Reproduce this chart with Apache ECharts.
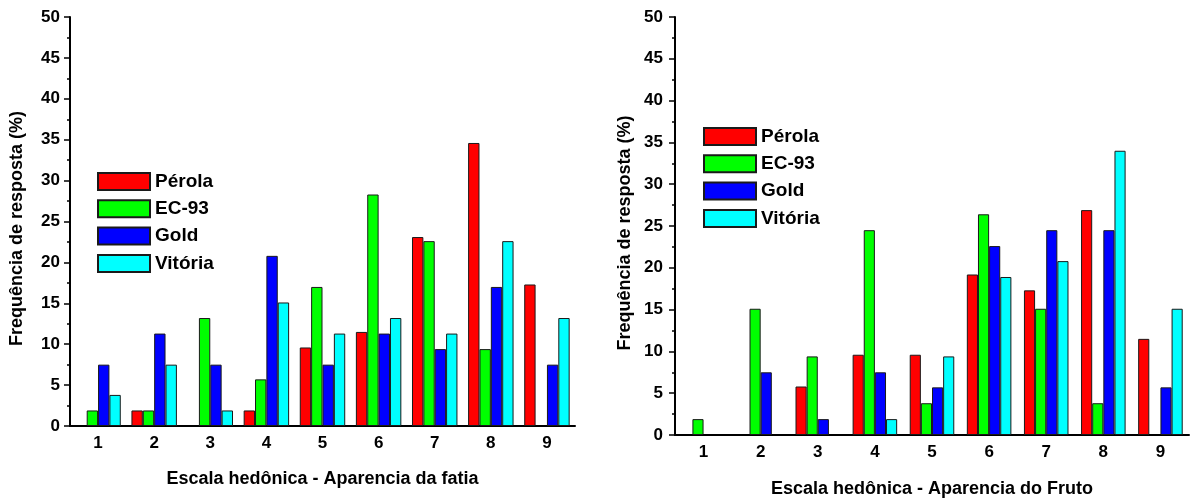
<!DOCTYPE html>
<html>
<head>
<meta charset="utf-8">
<script src="https://cdn.jsdelivr.net/npm/echarts@6/dist/echarts.min.js"></script>
<style>
  html, body { margin: 0; padding: 0; background: #fff; }
  #chart { width: 1194px; height: 499px; }
</style>
</head>
<body>
<div id="chart"></div>
<script>
// Hedonic scale scores 1..9
const categories = ['1', '2', '3', '4', '5', '6', '7', '8', '9'];
const cultivars = ['Pérola', 'EC-93', 'Gold', 'Vitória'];
const yTicks = [0, 5, 10, 15, 20, 25, 30, 35, 40, 45, 50];

// Response frequency (%) - slice appearance
const perolaFatia  = [0, 1.9, 0, 1.9, 9.6, 11.5, 23.1, 34.6, 17.3];
const ec93Fatia    = [1.9, 1.9, 13.2, 5.7, 17.0, 28.3, 22.6, 9.4, 0];
const goldFatia    = [7.5, 11.3, 7.5, 20.8, 7.5, 11.3, 9.4, 17.0, 7.5];
const vitoriaFatia = [3.8, 7.5, 1.9, 15.1, 11.3, 13.2, 11.3, 22.6, 13.2];

// Response frequency (%) - fruit appearance
const perolaFruto  = [0, 0, 5.8, 9.6, 9.6, 19.2, 17.3, 26.9, 11.5];
const ec93Fruto    = [1.9, 15.1, 9.4, 24.5, 3.8, 26.4, 15.1, 3.8, 0];
const goldFruto    = [0, 7.5, 1.9, 7.5, 5.7, 22.6, 24.5, 24.5, 5.7];
const vitoriaFruto = [0, 0, 0, 1.9, 9.4, 18.9, 20.8, 34.0, 15.1];

const colors = ['#ff0000', '#00ff00', '#0000ff', '#00ffff'];
const FONT = '"Liberation Sans", Arial, sans-serif';

const chart = echarts.init(document.getElementById('chart'), null, { renderer: 'canvas' });

function mainXAxis(gridIndex, name, nameGap) {
  return {
    type: 'category', gridIndex, data: categories, boundaryGap: true,
    name, nameLocation: 'middle', nameGap,
    nameTextStyle: { fontFamily: FONT, fontWeight: 'bold', fontSize: 18, color: '#000' },
    axisLine: { lineStyle: { color: '#000', width: 2 } },
    axisTick: { alignWithLabel: true, length: 6, lineStyle: { color: '#000', width: 1.5 } },
    axisLabel: { fontFamily: FONT, fontWeight: 'bold', fontSize: 17, color: '#000', margin: 9 },
    splitLine: { show: false }
  };
}
// boundary ticks between scores
function minorXAxis(gridIndex) {
  return {
    type: 'category', gridIndex, data: categories, boundaryGap: true, position: 'bottom',
    axisLine: { show: false },
    axisTick: { length: 3, lineStyle: { color: '#000', width: 1.5 } },
    axisLabel: { show: false },
    splitLine: { show: false }
  };
}
function yAxis(gridIndex, nameGap, margin) {
  return {
    type: 'value', gridIndex, min: 0, max: 50, interval: 5,
    name: 'Frequência de resposta (%)', nameLocation: 'middle', nameGap,
    nameTextStyle: { fontFamily: FONT, fontWeight: 'bold', fontSize: 18, color: '#000', padding: [0, 14, 0, 0] },
    axisLine: { show: true, lineStyle: { color: '#000', width: 2 } },
    axisTick: { show: true, length: 6, lineStyle: { color: '#000', width: 1.5 } },
    minorTick: { show: true, splitNumber: 2, length: 3, lineStyle: { color: '#000', width: 1.5 } },
    axisLabel: {
      fontFamily: FONT, fontWeight: 'bold', fontSize: 17, color: '#000', margin,
      formatter: v => (yTicks.includes(v) ? String(v) : '')
    },
    splitLine: { show: false }
  };
}
function barSeries(name, values, color, axisIndex, catGap) {
  return {
    type: 'bar', name, xAxisIndex: axisIndex, yAxisIndex: axisIndex === 0 ? 0 : 1,
    data: values.map(v => (v === 0 ? '-' : v)),
    barGap: '0%', barCategoryGap: catGap,
    itemStyle: { color, borderColor: '#1a1a1a', borderWidth: 1 },
    emphasis: { disabled: true },
    animation: false
  };
}
function legend(left, top) {
  return {
    data: cultivars, orient: 'vertical', left, top, padding: 0,
    icon: 'rect', itemWidth: 52, itemHeight: 17, itemGap: 8.3,
    textStyle: { fontFamily: FONT, fontWeight: 'bold', fontSize: 19, color: '#000', lineHeight: 17 },
    selectedMode: false
  };
}

const option = {
  backgroundColor: '#fff',
  animation: false,
  grid: [
    { left: 70, top: 17, width: 505, height: 409, outerBoundsMode: 'none', containLabel: false },
    { left: 675, top: 17, width: 514, height: 418, outerBoundsMode: 'none', containLabel: false }
  ],
  legend: [legend(97, 172), legend(703, 127)],
  xAxis: [
    mainXAxis(0, 'Escala hedônica - Aparencia da fatia', 44),
    mainXAxis(1, 'Escala hedônica - Aparencia do Fruto', 45),
    minorXAxis(0),
    minorXAxis(1)
  ],
  yAxis: [yAxis(0, 44, 10), yAxis(1, 41, 12)],
  series: [
    barSeries(cultivars[0], perolaFatia, colors[0], 0, '19%'),
    barSeries(cultivars[1], ec93Fatia, colors[1], 0, '19%'),
    barSeries(cultivars[2], goldFatia, colors[2], 0, '19%'),
    barSeries(cultivars[3], vitoriaFatia, colors[3], 0, '19%'),
    barSeries(cultivars[0], perolaFruto, colors[0], 1, '22%'),
    barSeries(cultivars[1], ec93Fruto, colors[1], 1, '22%'),
    barSeries(cultivars[2], goldFruto, colors[2], 1, '22%'),
    barSeries(cultivars[3], vitoriaFruto, colors[3], 1, '22%')
  ]
};
chart.setOption(option);
</script>
</body>
</html>
